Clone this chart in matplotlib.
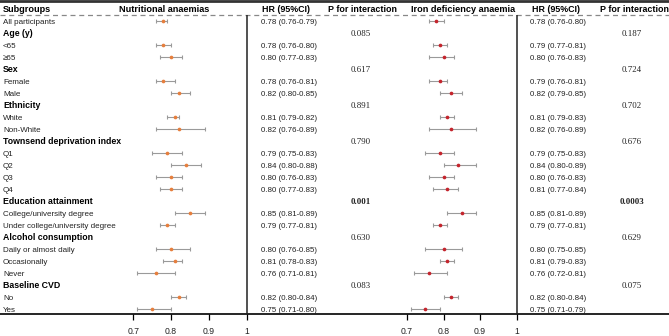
import matplotlib
matplotlib.use("Agg")
import matplotlib.pyplot as plt
import numpy as np

# rows top to bottom; None = group header
labels = ["All participants", "Age (y)", "<65", "≥65", "Sex", "Female", "Male",
          "Ethnicity", "White", "Non-White", "Townsend deprivation index",
          "Q1", "Q2", "Q3", "Q4", "Education attainment",
          "College/university degree", "Under college/university degree",
          "Alcohol consumption", "Daily or almost daily", "Occasionally", "Never",
          "Baseline CVD", "No", "Yes"]
is_group = [False, True, False, False, True, False, False, True, False, False, True,
            False, False, False, False, True, False, False, True, False, False, False,
            True, False, False]

# nutritional anaemias
na_hr = [0.78, 0.78, 0.80, 0.78, 0.82, 0.81, 0.82, 0.79, 0.84, 0.80, 0.80,
         0.85, 0.79, 0.80, 0.81, 0.76, 0.82, 0.75]
na_lo = [0.76, 0.76, 0.77, 0.76, 0.80, 0.79, 0.76, 0.75, 0.80, 0.76, 0.77,
         0.81, 0.77, 0.76, 0.78, 0.71, 0.80, 0.71]
na_hi = [0.79, 0.80, 0.83, 0.81, 0.85, 0.82, 0.89, 0.83, 0.88, 0.83, 0.83,
         0.89, 0.81, 0.85, 0.83, 0.81, 0.84, 0.80]
na_p = ["0.085", "0.617", "0.891", "0.790", "0.001", "0.630", "0.083"]

# iron deficiency anaemia
ida_hr = [0.78, 0.79, 0.80, 0.79, 0.82, 0.81, 0.82, 0.79, 0.84, 0.80, 0.81,
          0.85, 0.79, 0.80, 0.81, 0.76, 0.82, 0.75]
ida_lo = [0.76, 0.77, 0.76, 0.76, 0.79, 0.79, 0.76, 0.75, 0.80, 0.76, 0.77,
          0.81, 0.77, 0.75, 0.79, 0.72, 0.80, 0.71]
ida_hi = [0.80, 0.81, 0.83, 0.81, 0.85, 0.83, 0.89, 0.83, 0.89, 0.83, 0.84,
          0.89, 0.81, 0.85, 0.83, 0.81, 0.84, 0.79]
ida_p = ["0.187", "0.724", "0.702", "0.676", "0.0003", "0.629", "0.075"]
bold_p = ["0.001", "0.0003"]

ticks = [0.7, 0.8, 0.9, 1]

W, H = 669, 336
row0, step = 21, 12.0  # pixel y of first row, row spacing


def py(p):
    # pixel y -> row units
    return (p - row0) / step


fig = plt.figure(figsize=(W / 100, H / 100), dpi=100)
ax0 = fig.add_axes([0, 0, 1, 1])
ax0.set_xlim(0, W)
ax0.set_ylim(py(H), py(0))
ax0.axis("off")

sans = "Liberation Sans"
serif = "Liberation Serif"
va = "center_baseline"

# frame lines
ax0.axhline(py(1.2), color="#333333", lw=2.0)
ax0.axhline(py(14.5), color="#888888", lw=0.9, ls=(0, (4, 3)))
ax0.axhline(py(314), color="black", lw=1.2)

# headers
hy = py(8.5)
ax0.text(3, hy, "Subgroups", fontsize=6.6, fontweight="bold", family=sans, va=va)
ax0.text(164, hy, "Nutritional anaemias", fontsize=6.6, fontweight="bold", family=sans, va=va, ha="center")
ax0.text(286, hy, "HR (95%CI)", fontsize=6.4, fontweight="bold", family=sans, va=va, ha="center")
ax0.text(363, hy, "P for interaction", fontsize=6.4, fontweight="bold", family=sans, va=va, ha="center")
ax0.text(463, hy, "Iron deficiency anaemia", fontsize=6.6, fontweight="bold", family=sans, va=va, ha="center")
ax0.text(556, hy, "HR (95%CI)", fontsize=6.4, fontweight="bold", family=sans, va=va, ha="center")
ax0.text(634, hy, "P for interaction", fontsize=6.4, fontweight="bold", family=sans, va=va, ha="center")

# row labels, HR text, p values
data_rows = [i for i, g in enumerate(is_group) if not g]
group_rows = [i for i, g in enumerate(is_group) if g]
for i, lab in enumerate(labels):
    if is_group[i]:
        ax0.text(3, i, lab, fontsize=6.3, fontweight="bold", family=sans, va=va)
    else:
        ax0.text(3, i, lab, fontsize=5.8, family=sans, va=va, color="#222222")

for k, i in enumerate(data_rows):
    ax0.text(261, i, f"{na_hr[k]:.2f} ({na_lo[k]:.2f}-{na_hi[k]:.2f})",
             fontsize=5.7, family=sans, va=va, color="#222222")
    ax0.text(530, i, f"{ida_hr[k]:.2f} ({ida_lo[k]:.2f}-{ida_hi[k]:.2f})",
             fontsize=5.7, family=sans, va=va, color="#222222")

for k, i in enumerate(group_rows):
    for p, x in ((na_p[k], 361), (ida_p[k], 632)):
        ax0.text(x, i, p, fontsize=6.4, family=serif, va=va, ha="center",
                 fontweight="bold" if p in bold_p else "normal", color="#222222")


def forest(x07, x1, hr, lo, hi, color):
    scale = (x1 - x07) / 0.3
    left, right = x07 - 10, x1 + 1
    ax = fig.add_axes([left / W, (H - 314) / H, (right - left) / W, (314 - 14.5) / H])
    ax.set_xlim(0.7 - (x07 - left) / scale, 1 + (right - x1) / scale)
    ax.set_ylim(py(314), py(14.5))
    ax.patch.set_alpha(0)
    for s in ax.spines.values():
        s.set_visible(False)
    hr = np.array(hr)
    ax.errorbar(hr, data_rows, xerr=[hr - np.array(lo), np.array(hi) - hr],
                fmt="none", ecolor="#9a9a9a", elinewidth=0.8, capsize=1.6, capthick=0.8)
    ax.scatter(hr, data_rows, s=7, color=color, zorder=3, linewidths=0)
    ax.axvline(1, color="#222222", lw=1.1)
    ax.set_yticks([])
    ax.set_xticks(ticks)
    ax.set_xticklabels(["0.7", "0.8", "0.9", "1"], fontsize=6.2, family=sans, color="#222222")
    ax.tick_params(axis="x", length=4, width=0.9, pad=5, direction="out")
    return ax


forest(133.3, 246.5, na_hr, na_lo, na_hi, "#e67e3c")
forest(407, 516.5, ida_hr, ida_lo, ida_hi, "#c4242c")

fig.savefig("out.png", dpi=100)
